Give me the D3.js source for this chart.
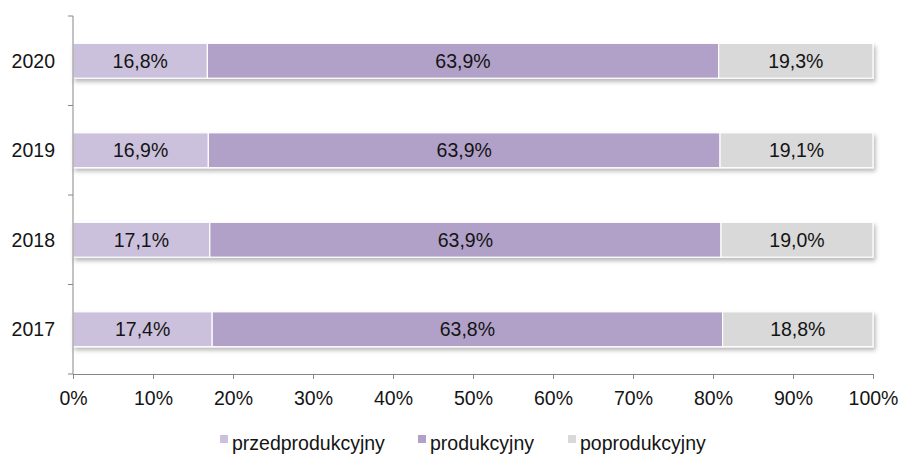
<!DOCTYPE html>
<html>
<head>
<meta charset="utf-8">
<script src="https://cdn.jsdelivr.net/npm/d3@7"></script>
<style>
  html, body { margin: 0; padding: 0; background: #fff; }
  svg { display: block; font-family: "Liberation Sans", Arial, sans-serif; }
</style>
</head>
<body>
<svg id="chart" width="903" height="454"></svg>
<script>
// Age structure shares by year
const years = ["2020", "2019", "2018", "2017"];
const seriesNames = ["przedprodukcyjny", "produkcyjny", "poprodukcyjny"];
const przedprodukcyjny = [16.8, 16.9, 17.1, 17.4];
const produkcyjny = [63.9, 63.9, 63.9, 63.8];
const poprodukcyjny = [19.3, 19.1, 19.0, 18.8];
const xTicks = [0, 10, 20, 30, 40, 50, 60, 70, 80, 90, 100];
const colors = ["#cbc1dc", "#b1a1c8", "#d9d9d9"];

const rows = years.map((yr, i) => ({
  year: yr,
  przedprodukcyjny: przedprodukcyjny[i],
  produkcyjny: produkcyjny[i],
  poprodukcyjny: poprodukcyjny[i]
}));

const svg = d3.select("#chart");
const plotLeft = 73, plotRight = 873, plotTop = 16, plotBottom = 374;
const fontSize = 19.5;
const textColor = "#141414";

const x = d3.scaleLinear().domain([0, 100]).range([plotLeft, plotRight]);
const y = d3.scaleBand().domain(years).range([plotTop, plotBottom]).paddingInner(0.61).paddingOuter(0.305);

// soft shadow under the bars
const defs = svg.append("defs");
const f = defs.append("filter").attr("id", "shadow")
  .attr("x", "-5%").attr("y", "-30%").attr("width", "110%").attr("height", "170%");
f.append("feDropShadow").attr("dx", 2).attr("dy", 3).attr("stdDeviation", 2)
  .attr("flood-color", "#000").attr("flood-opacity", 0.28);

const stack = d3.stack().keys(seriesNames).offset(d3.stackOffsetExpand);
const stacked = stack(rows);

const barsG = svg.append("g");
rows.forEach((r, ri) => {
  const g = barsG.append("g").attr("filter", "url(#shadow)");
  stacked.forEach((s, si) => {
    const d = s[ri];
    g.append("rect")
      .attr("x", x(d[0] * 100))
      .attr("y", y(r.year))
      .attr("width", x(d[1] * 100) - x(d[0] * 100))
      .attr("height", y.bandwidth())
      .attr("fill", colors[si])
      .attr("stroke", "#fff")
      .attr("stroke-width", 1.2);
  });
});

// value labels
rows.forEach((r, ri) => {
  stacked.forEach((s, si) => {
    const d = s[ri];
    const v = r[seriesNames[si]];
    svg.append("text")
      .attr("x", (x(d[0] * 100) + x(d[1] * 100)) / 2)
      .attr("y", y(r.year) + y.bandwidth() / 2)
      .attr("dy", "0.36em")
      .attr("text-anchor", "middle")
      .attr("font-size", fontSize)
      .attr("fill", textColor)
      .text(v.toFixed(1).replace(".", ",") + "%");
  });
});

// axes
const axisColor = "#868686";
const xAxis = svg.append("g").attr("transform", `translate(0,${plotBottom})`)
  .call(d3.axisBottom(x).tickValues(xTicks).tickSize(5).tickSizeOuter(0).tickPadding(12)
    .tickFormat(d => d + "%"));
xAxis.select(".domain").attr("stroke", axisColor);
xAxis.selectAll(".tick line").attr("stroke", axisColor);
xAxis.selectAll("text").attr("font-size", fontSize).attr("fill", textColor)
  .attr("font-family", "Liberation Sans, Arial, sans-serif");

const yAxisG = svg.append("g").attr("transform", `translate(${plotLeft},0)`);
yAxisG.append("line").attr("x1", 0).attr("x2", 0).attr("y1", plotTop).attr("y2", plotBottom)
  .attr("stroke", axisColor);
// category boundaries as ticks
const bounds = d3.range(years.length + 1).map(i => plotTop + i * (plotBottom - plotTop) / years.length);
yAxisG.selectAll("line.tk").data(bounds).join("line").attr("class", "tk")
  .attr("x1", -5).attr("x2", 0).attr("y1", d => d).attr("y2", d => d).attr("stroke", axisColor);
yAxisG.selectAll("text").data(years).join("text")
  .attr("x", -18).attr("y", d => y(d) + y.bandwidth() / 2).attr("dy", "0.36em")
  .attr("text-anchor", "end").attr("font-size", fontSize).attr("fill", textColor).text(d => d);

// legend
const legendX = [220, 418, 568];
const lg = svg.append("g");
seriesNames.forEach((n, i) => {
  lg.append("rect").attr("x", legendX[i]).attr("y", 435).attr("width", 8).attr("height", 8).attr("fill", colors[i]);
  lg.append("text").attr("x", legendX[i] + 12).attr("y", 443).attr("dy", "0.36em")
    .attr("font-size", fontSize).attr("fill", textColor).text(n);
});
</script>
</body>
</html>
